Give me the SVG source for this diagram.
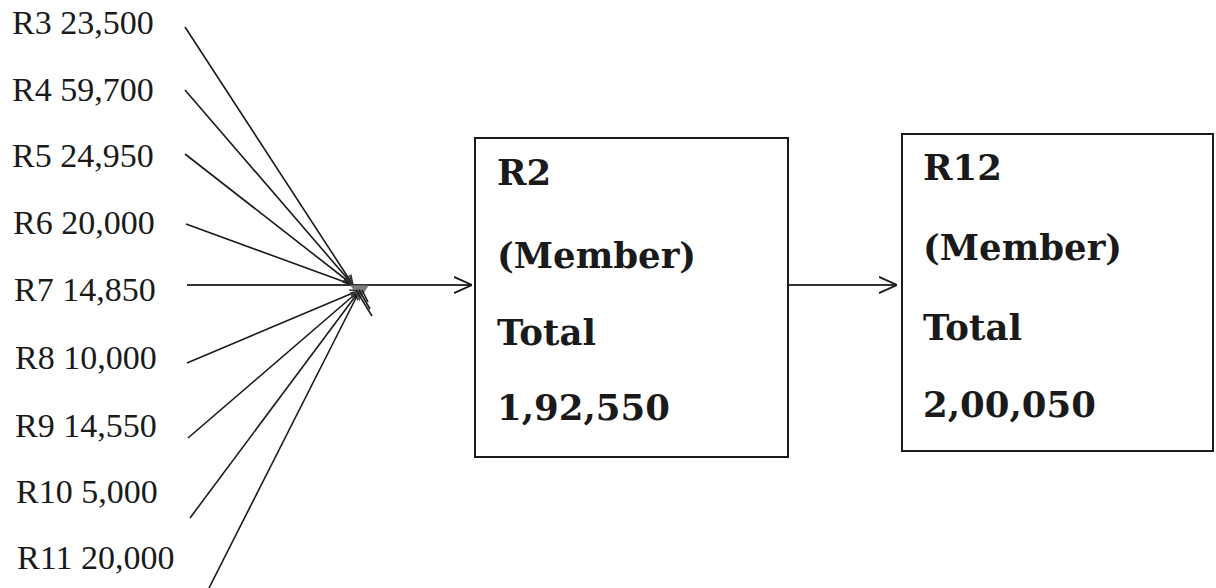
<svg xmlns="http://www.w3.org/2000/svg" width="1216" height="588" viewBox="0 0 1216 588">
  <style>
    .lbl { font-family: "Liberation Serif", "Times New Roman", serif; font-size: 34px; fill: #1a1a1a; }
    .box { fill: #fff; stroke: #1a1a1a; stroke-width: 2; }
    .bt { font-family: "DejaVu Serif", "Liberation Serif", serif; font-weight: bold; font-size: 35.5px; fill: #1a1a1a; }
    .ln { stroke: #1a1a1a; stroke-width: 1.6; fill: none; }
    .arr { stroke: #333; stroke-width: 1.8; fill: none; }
  </style>
  <defs>
    <marker id="big" viewBox="0 0 10 10" refX="10" refY="5" markerUnits="userSpaceOnUse" markerWidth="18" markerHeight="18" orient="auto">
      <path d="M0,0.5 L10,5 L0,9.5" fill="none" stroke="#1a1a1a" stroke-width="1"/>
    </marker>
    <marker id="small" viewBox="0 0 10 10" refX="10" refY="5" markerUnits="userSpaceOnUse" markerWidth="10" markerHeight="10" orient="auto">
      <path d="M0,1 L10,5 L0,9" fill="none" stroke="#333" stroke-width="1.4"/>
    </marker>
  </defs>
  <rect width="1216" height="588" fill="#fff"/>

  <g id="connectors">
    <line class="ln" x1="185" y1="27" x2="353" y2="285" marker-end="url(#small)"/>
    <line class="ln" x1="185" y1="90" x2="353" y2="285" marker-end="url(#small)"/>
    <line class="ln" x1="185" y1="154" x2="353" y2="285" marker-end="url(#small)"/>
    <line class="ln" x1="186" y1="224" x2="353" y2="285" marker-end="url(#small)"/>
    <line class="arr" x1="187" y1="285" x2="472" y2="285" marker-end="url(#big)"/>
    <line class="ln" x1="187" y1="363" x2="360" y2="290" marker-end="url(#small)"/>
    <line class="ln" x1="188" y1="438" x2="360" y2="290" marker-end="url(#small)"/>
    <line class="ln" x1="190" y1="518" x2="360" y2="290" marker-end="url(#small)"/>
    <line class="ln" x1="209" y1="588" x2="360" y2="290" marker-end="url(#small)"/>
    <path d="M350,285 L369,285 L360,299 Z" fill="#666" opacity="0.85"/>
    <line class="ln" x1="356" y1="290" x2="372" y2="316"/>
    <line class="ln" x1="359" y1="290" x2="370" y2="309"/>
    <line class="ln" x1="362" y1="290" x2="368" y2="302"/>
    <line class="arr" x1="788" y1="285" x2="897" y2="285" marker-end="url(#big)"/>
  </g>

  <g id="R3"><text class="lbl" x="12" y="34">R3 23,500</text></g>
  <g id="R4"><text class="lbl" x="12" y="101">R4 59,700</text></g>
  <g id="R5"><text class="lbl" x="12" y="167">R5 24,950</text></g>
  <g id="R6"><text class="lbl" x="13" y="234">R6 20,000</text></g>
  <g id="R7"><text class="lbl" x="14" y="301">R7 14,850</text></g>
  <g id="R8"><text class="lbl" x="15" y="369">R8 10,000</text></g>
  <g id="R9"><text class="lbl" x="15" y="437">R9 14,550</text></g>
  <g id="R10"><text class="lbl" x="16" y="503">R10 5,000</text></g>
  <g id="R11"><text class="lbl" x="17" y="569">R11 20,000</text></g>

  <g id="R2">
    <rect class="box" x="475" y="138" width="313" height="319"/>
    <text class="bt" x="497" y="185">R2</text>
    <text class="bt" x="497" y="268">(Member)</text>
    <text class="bt" x="497" y="345">Total</text>
    <text class="bt" x="497" y="420">1,92,550</text>
  </g>

  <g id="R12">
    <rect class="box" x="902" y="134" width="311" height="317"/>
    <text class="bt" x="923" y="180">R12</text>
    <text class="bt" x="923" y="260">(Member)</text>
    <text class="bt" x="923" y="340">Total</text>
    <text class="bt" x="923" y="417">2,00,050</text>
  </g>
</svg>
